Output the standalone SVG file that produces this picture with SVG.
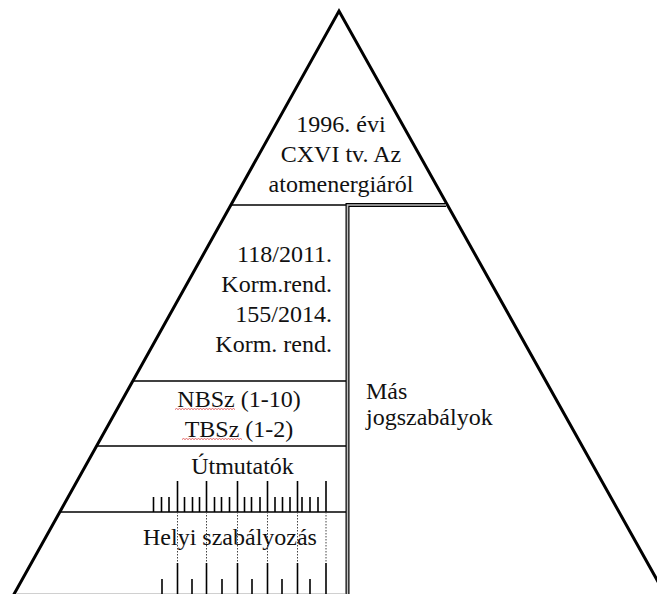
<svg xmlns="http://www.w3.org/2000/svg" width="657" height="594" viewBox="0 0 657 594">
<style>
text{font-family:"Liberation Serif","Times New Roman",serif;font-size:24px;fill:#111}
.edge{fill:none;stroke:#000;stroke-width:3;stroke-linecap:round}
.div{stroke:#000;stroke-width:1.5;fill:none}
.dbl-o{stroke:#000;stroke-width:4;fill:none}
.dbl-i{stroke:#bdbdbd;stroke-width:1.6;fill:none}
.tick{stroke:#000;stroke-width:1.6}
.dot{stroke:#444;stroke-width:1;stroke-dasharray:1.5 1.5}
.wavy{fill:none;stroke:#e05050;stroke-width:0.9}
</style>
<rect width="657" height="594" fill="#fff"/>
<g id="pyramid">
<polyline class="edge" points="13,596 339,11 666,596"/>
<line x1="16" y1="593.5" x2="345" y2="593.5" stroke="#d0d0d0" stroke-width="1"/>
</g>
<g id="dividers">
<line class="div" x1="231" y1="205" x2="346" y2="205"/>
<line class="div" x1="133" y1="381" x2="346" y2="381"/>
<line class="div" x1="97" y1="446" x2="346" y2="446"/>
<line class="div" x1="60" y1="512" x2="346" y2="512"/>
<path class="dbl-o" d="M347.5,596 V205 H446"/>
<path class="dbl-i" d="M347.5,596 V205 H446"/>
</g>
<g id="tier-atomtorveny">
<text x="341" y="132" text-anchor="middle">1996. évi</text>
<text x="341" y="162" text-anchor="middle">CXVI tv. Az</text>
<text x="341" y="192" text-anchor="middle">atomenergiáról</text>
</g>
<g id="tier-kormrend">
<text x="332" y="262" text-anchor="end">118/2011.</text>
<text x="332" y="292" text-anchor="end">Korm.rend.</text>
<text x="332" y="322" text-anchor="end">155/2014.</text>
<text x="332" y="352" text-anchor="end">Korm. rend.</text>
</g>
<g id="tier-nbsz">
<text x="239" y="407" text-anchor="middle" font-size="24.5">NBSz (1-10)</text>
<text x="239" y="437" text-anchor="middle" font-size="24.5">TBSz (1-2)</text>
<path class="wavy" d="M175,409.5 l1.5,-1 l1.5,1 l1.5,-1 l1.5,1 l1.5,-1 l1.5,1 l1.5,-1 l1.5,1 l1.5,-1 l1.5,1 l1.5,-1 l1.5,1 l1.5,-1 l1.5,1 l1.5,-1 l1.5,1 l1.5,-1 l1.5,1 l1.5,-1 l1.5,1 l1.5,-1 l1.5,1 l1.5,-1 l1.5,1 l1.5,-1 l1.5,1 l1.5,-1 l1.5,1 l1.5,-1 l1.5,1 l1.5,-1 l1.5,1 l1.5,-1 l1.5,1 l1.5,-1 l1.5,1 l1.5,-1 l1.5,1 l1.5,-1 l1.5,1"/>
<path class="wavy" d="M182,439.5 l1.5,-1 l1.5,1 l1.5,-1 l1.5,1 l1.5,-1 l1.5,1 l1.5,-1 l1.5,1 l1.5,-1 l1.5,1 l1.5,-1 l1.5,1 l1.5,-1 l1.5,1 l1.5,-1 l1.5,1 l1.5,-1 l1.5,1 l1.5,-1 l1.5,1 l1.5,-1 l1.5,1 l1.5,-1 l1.5,1 l1.5,-1 l1.5,1 l1.5,-1 l1.5,1 l1.5,-1 l1.5,1 l1.5,-1 l1.5,1 l1.5,-1 l1.5,1 l1.5,-1 l1.5,1 l1.5,-1 l1.5,1 l1.5,-1 l1.5,1"/>
</g>
<g id="tier-utmutatok">
<text x="242.5" y="474" text-anchor="middle" font-size="25">Útmutatók</text>
<g class="ticks">
<line class="tick" x1="153.5" y1="497" x2="153.5" y2="512"/>
<line class="tick" x1="161.5" y1="497" x2="161.5" y2="512"/>
<line class="tick" x1="169" y1="497" x2="169" y2="512"/>
<line class="tick" x1="177.5" y1="481" x2="177.5" y2="512"/>
<line class="tick" x1="184.5" y1="497" x2="184.5" y2="512"/>
<line class="tick" x1="192.5" y1="497" x2="192.5" y2="512"/>
<line class="tick" x1="199.5" y1="497" x2="199.5" y2="512"/>
<line class="tick" x1="206.5" y1="481" x2="206.5" y2="512"/>
<line class="tick" x1="214.5" y1="497" x2="214.5" y2="512"/>
<line class="tick" x1="221.5" y1="497" x2="221.5" y2="512"/>
<line class="tick" x1="229.5" y1="497" x2="229.5" y2="512"/>
<line class="tick" x1="237.5" y1="481" x2="237.5" y2="512"/>
<line class="tick" x1="244.5" y1="497" x2="244.5" y2="512"/>
<line class="tick" x1="251.5" y1="497" x2="251.5" y2="512"/>
<line class="tick" x1="260" y1="497" x2="260" y2="512"/>
<line class="tick" x1="267.5" y1="481" x2="267.5" y2="512"/>
<line class="tick" x1="275" y1="497" x2="275" y2="512"/>
<line class="tick" x1="282.5" y1="497" x2="282.5" y2="512"/>
<line class="tick" x1="290" y1="497" x2="290" y2="512"/>
<line class="tick" x1="297.5" y1="481" x2="297.5" y2="512"/>
<line class="tick" x1="302" y1="497" x2="302" y2="512"/>
<line class="tick" x1="310" y1="497" x2="310" y2="512"/>
<line class="tick" x1="318" y1="497" x2="318" y2="512"/>
<line class="tick" x1="326" y1="481" x2="326" y2="512"/>
</g>
</g>
<g id="tier-helyi">
<g class="dots">
<line class="dot" x1="177.5" y1="512" x2="177.5" y2="563"/>
<line class="dot" x1="206.5" y1="512" x2="206.5" y2="563"/>
<line class="dot" x1="237.5" y1="512" x2="237.5" y2="563"/>
<line class="dot" x1="267.5" y1="512" x2="267.5" y2="563"/>
<line class="dot" x1="297.5" y1="512" x2="297.5" y2="563"/>
<line class="dot" x1="326" y1="512" x2="326" y2="563"/>
</g>
<text x="230" y="545" text-anchor="middle" font-size="24.8">Helyi szabályozás</text>
<g class="ticks">
<line class="tick" x1="162" y1="579" x2="162" y2="594"/>
<line class="tick" x1="177.5" y1="563" x2="177.5" y2="594"/>
<line class="tick" x1="192" y1="579" x2="192" y2="594"/>
<line class="tick" x1="206.5" y1="563" x2="206.5" y2="594"/>
<line class="tick" x1="222" y1="579" x2="222" y2="594"/>
<line class="tick" x1="237.5" y1="563" x2="237.5" y2="594"/>
<line class="tick" x1="252" y1="579" x2="252" y2="594"/>
<line class="tick" x1="267.5" y1="563" x2="267.5" y2="594"/>
<line class="tick" x1="282" y1="579" x2="282" y2="594"/>
<line class="tick" x1="297.5" y1="563" x2="297.5" y2="594"/>
<line class="tick" x1="310" y1="579" x2="310" y2="594"/>
<line class="tick" x1="326" y1="563" x2="326" y2="594"/>
</g>
</g>
<g id="tier-mas">
<text x="366" y="399" font-size="22">Más</text>
<text x="366" y="425" font-size="22">jogszabályok</text>
</g>
<g id="connectors"/>
</svg>
